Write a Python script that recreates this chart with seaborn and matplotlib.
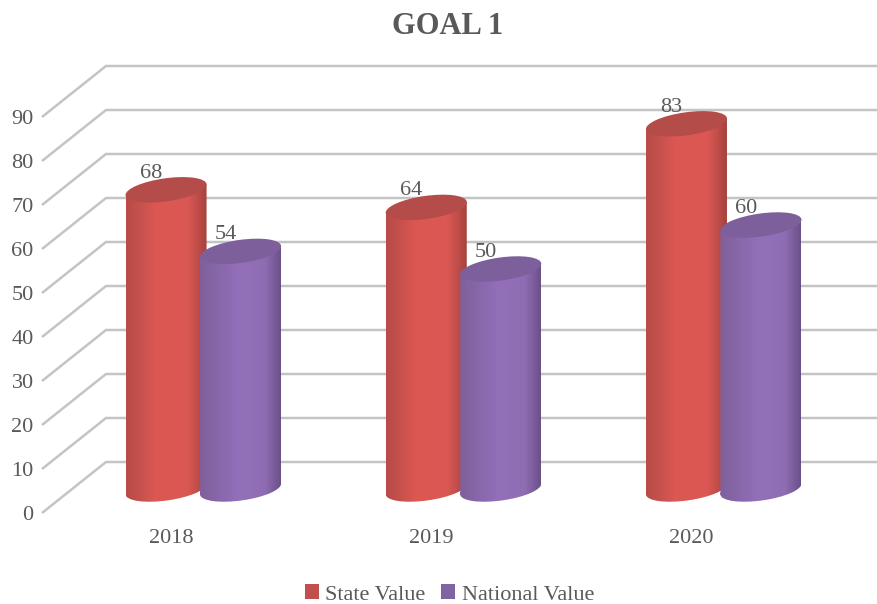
import numpy as np
import pandas as pd
import seaborn as sns
import matplotlib
matplotlib.use("Agg")
import matplotlib.pyplot as plt
from matplotlib.colors import to_rgb
from matplotlib.patches import Ellipse
from matplotlib.path import Path
from matplotlib.transforms import IdentityTransform, Affine2D

years = ["2018", "2019", "2020"]
state_values = [68, 64, 83]
national_values = [54, 50, 60]
y_ticks = [0, 10, 20, 30, 40, 50, 60, 70, 80, 90]
series_names = ["State Value", "National Value"]
legend_colors = ["#C0504D", "#8064A2"]
top_colors = ["#B44C49", "#7C5F9B"]
gradients = [
    [(0, "#B84A47"), (.15, "#C4504C"), (.35, "#DA5752"), (.75, "#DC5854"), (.9, "#BE4C48"), (1, "#A5413E")],
    [(0, "#80609A"), (.2, "#8766A8"), (.5, "#9370BA"), (.8, "#8F6DB3"), (.92, "#7A5C9B"), (1, "#6A5088")],
]
TEXT = "#595959"
GRID = "#C4C4C4"
FONT = "Liberation Serif"

W, H = 878, 604
PX_PER_UNIT = 4.4
BASE_PX = 489
LEFT_PX, TOP_PX, BOTTOM_PX = 42, 50, 515
GROUP0_PX, GROUP_STEP = 203.3, 260.2

sns.set_theme(style="white")
plt.rcParams["font.family"] = [FONT, "DejaVu Serif"]

df = pd.DataFrame({
    "year": years * 2,
    "value": state_values + national_values,
    "series": [series_names[0]] * 3 + [series_names[1]] * 3,
})

fig = plt.figure(figsize=(W / 100, H / 100), dpi=100)
ax = fig.add_axes([LEFT_PX / W, 1 - BOTTOM_PX / H, (W - LEFT_PX) / W, (BOTTOM_PX - TOP_PX) / H])
sns.barplot(data=df, x="year", y="value", hue="series", palette=legend_colors,
            width=74.5 * 2 / GROUP_STEP, gap=0, saturation=1, ax=ax, zorder=3)

xlim = ((LEFT_PX - GROUP0_PX) / GROUP_STEP, (W - GROUP0_PX) / GROUP_STEP)
ylim = ((BASE_PX - BOTTOM_PX) / PX_PER_UNIT, (BASE_PX - TOP_PX) / PX_PER_UNIT)
ax.set_xlim(*xlim)
ax.set_ylim(*ylim)

# depth offsets of the floor/wall, in value units
FRONT = (BASE_PX - 513) / PX_PER_UNIT
BACK = (BASE_PX - 462) / PX_PER_UNIT
back_x = xlim[0] + (106 - LEFT_PX) / GROUP_STEP
for v in y_ticks:
    ax.plot([xlim[0], back_x, xlim[1]], [v + FRONT, v + BACK, v + BACK],
            color=GRID, lw=1.8, zorder=1, solid_capstyle="butt", clip_on=False)

for s in ax.spines.values():
    s.set_visible(False)
ax.set_xlabel("")
ax.set_ylabel("")
ax.set_yticks([v + FRONT for v in y_ticks], [str(v) for v in y_ticks])
ax.set_xticks([i - 32 / GROUP_STEP for i in range(len(years))], years)
ax.tick_params(axis="both", length=0, labelsize=16, labelcolor=TEXT)
ax.tick_params(axis="y", pad=6)
ax.tick_params(axis="x", pad=10)
ax.grid(False)

HALF_W, TILT, ELL_H, ANGLE = 40.5, 5.5, 23, 8
bars = []
for sidx, cont in enumerate(ax.containers):
    for p in cont.patches:
        bars.append((p.get_x() + p.get_width() / 2, p.get_height(), sidx, p))
bars.sort(key=lambda b: b[0])

for z, (cx, val, sidx, patch) in enumerate(bars):
    z0 = 4 + z
    xc_px, base_px = ax.transData.transform((cx, 0))
    _, top_px = ax.transData.transform((cx, val))
    poly = Path([(xc_px - HALF_W, top_px - TILT), (xc_px + HALF_W, top_px + TILT),
                 (xc_px + HALF_W, base_px + TILT), (xc_px - HALF_W, base_px - TILT),
                 (xc_px - HALF_W, top_px - TILT)], closed=True)
    ell_tf = Affine2D().scale(HALF_W / np.cos(np.radians(ANGLE)), ELL_H / 2).rotate_deg(ANGLE).translate(xc_px, base_px)
    ell_path = Path.unit_circle().transformed(ell_tf)
    v0, v1, v2 = poly.vertices[:3]
    if (v1[0] - v0[0]) * (v2[1] - v1[1]) - (v1[1] - v0[1]) * (v2[0] - v1[0]) < 0:
        poly = Path(poly.vertices[::-1], closed=True)
    clip = Path.make_compound_path(poly, ell_path)
    patch.set_clip_path(poly, IdentityTransform())
    patch.set_zorder(z0)

    stops = gradients[sidx]
    t = np.linspace(0, 1, 200)
    pos = [s[0] for s in stops]
    rgb = np.array([to_rgb(s[1]) for s in stops])
    grad = np.stack([np.interp(t, pos, rgb[:, c]) for c in range(3)], axis=-1)[None, :, :]
    half_data = HALF_W / GROUP_STEP
    im = ax.imshow(grad, extent=(cx - half_data, cx + half_data, ylim[0], val + 3),
                   aspect="auto", origin="lower", interpolation="bilinear", zorder=z0 + 0.1)
    im.set_clip_path(clip, IdentityTransform())

    ax.add_patch(Ellipse((xc_px, top_px), 2 * HALF_W / np.cos(np.radians(ANGLE)), ELL_H, angle=ANGLE,
                         facecolor=top_colors[sidx], edgecolor="none",
                         transform=IdentityTransform(), zorder=z0 + 0.2))
    ax.annotate(str(int(val)), xy=(cx, val), xytext=(-15 * 0.72, 16.5 * 0.72), textcoords="offset points",
                ha="center", va="center", fontsize=16, color=TEXT, zorder=50)

ax.set_xlim(*xlim)
ax.set_ylim(*ylim)

handles, labels = ax.get_legend_handles_labels()
leg = ax.legend(handles, labels, ncol=2, loc="center", bbox_to_anchor=(449.5 / W, 1 - 594.5 / H),
                bbox_transform=fig.transFigure, frameon=False, fontsize=16, handlelength=0.64,
                handleheight=0.64, handletextpad=0.3, columnspacing=0.7, labelcolor=TEXT)
for h in leg.legend_handles:
    h.set_edgecolor("none")

fig.text(448 / W, 1 - 27 / H, "GOAL 1", ha="center", va="center", fontsize=22,
         fontweight="bold", color=TEXT)

fig.savefig("out.png", dpi=100, facecolor="white")
